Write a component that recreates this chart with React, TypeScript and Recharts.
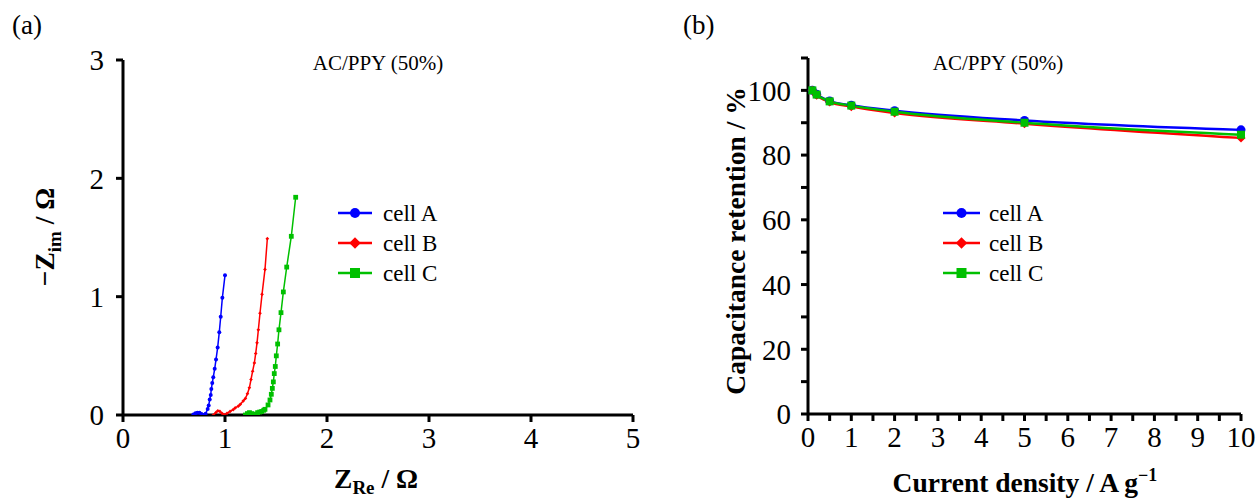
import React from 'react'
import {
  ScatterChart, Scatter, LineChart, Line, XAxis, YAxis, Legend,
} from 'recharts'

// (a) Nyquist plots, Z_Re / Ohm vs -Z_im / Ohm
const nyqAx = [0.69, 0.71, 0.73, 0.75, 0.77, 0.79, 0.81, 0.83, 0.84, 0.85, 0.86, 0.866, 0.875, 0.885, 0.899, 0.912, 0.928, 0.944, 0.958, 0.974, 1.0]
const nyqAy = [0.005, 0.015, 0.02, 0.018, 0.008, 0.0, 0.01, 0.05, 0.08, 0.13, 0.17, 0.22, 0.27, 0.32, 0.39, 0.47, 0.57, 0.7, 0.83, 0.99, 1.18]
const nyqBx = [0.885, 0.91, 0.93, 0.95, 0.97, 0.99, 1.02, 1.05, 1.08, 1.1, 1.13, 1.15, 1.18, 1.2, 1.22, 1.239, 1.255, 1.271, 1.288, 1.301, 1.314, 1.327, 1.343, 1.363, 1.392, 1.415]
const nyqBy = [0.0, 0.02, 0.035, 0.03, 0.015, 0.003, 0.015, 0.03, 0.045, 0.06, 0.075, 0.09, 0.12, 0.14, 0.18, 0.23, 0.3, 0.37, 0.44, 0.52, 0.61, 0.72, 0.86, 1.02, 1.23, 1.49]
const nyqCx = [1.2, 1.22, 1.24, 1.26, 1.28, 1.3, 1.32, 1.34, 1.36, 1.38, 1.392, 1.422, 1.441, 1.454, 1.464, 1.474, 1.483, 1.493, 1.503, 1.516, 1.529, 1.549, 1.572, 1.605, 1.65, 1.693]
const nyqCy = [0.0, 0.012, 0.02, 0.012, 0.002, 0.008, 0.02, 0.025, 0.03, 0.04, 0.048, 0.085, 0.127, 0.175, 0.225, 0.28, 0.35, 0.41, 0.5, 0.6, 0.72, 0.865, 1.04, 1.25, 1.51, 1.84]
const nyqXTicks = [0, 1, 2, 3, 4, 5]
const nyqYTicks = [0, 1, 2, 3]

// (b) rate capability
const currentDensity = [0.1, 0.2, 0.5, 1, 2, 5, 10]
const retentionA = [100, 98.8, 96.7, 95.4, 93.7, 90.7, 87.8]
const retentionB = [100, 98.5, 96.4, 95.0, 93.0, 89.7, 85.3]
const retentionC = [100, 98.7, 96.6, 95.3, 93.4, 90.0, 86.3]
const rateXTicks = [0, 0.5, 1, 1.5, 2, 2.5, 3, 3.5, 4, 4.5, 5, 5.5, 6, 6.5, 7, 7.5, 8, 8.5, 9, 9.5, 10]
const rateYTicks = [0, 10, 20, 30, 40, 50, 60, 70, 80, 90, 100, 110]

const seriesNames = ['cell A', 'cell B', 'cell C']
const COLORS = ['#0000ff', '#ff0000', '#00c000']
const SHAPES = ['circle', 'diamond', 'square']

const SERIF = 'Liberation Serif, Times New Roman, serif'

const zip = (xs: number[], ys: number[]) => xs.map((x, i) => ({ x, y: ys[i] }))

const rateData = currentDensity.map((x, i) => ({
  x,
  a: retentionA[i],
  b: retentionB[i],
  c: retentionC[i],
}))

function marker(shape: string, cx: number, cy: number, s: number, color: string, key?: string) {
  if (cx == null || cy == null) return <g key={key} />
  if (shape === 'circle') return <circle key={key} cx={cx} cy={cy} r={s} fill={color} />
  if (shape === 'diamond') {
    const d = s * 1.15
    return <polygon key={key} points={`${cx},${cy - d} ${cx + d},${cy} ${cx},${cy + d} ${cx - d},${cy}`} fill={color} />
  }
  return <rect key={key} x={cx - s} y={cy - s} width={s * 2} height={s * 2} fill={color} />
}

const axisStyle = {
  axisLine: { stroke: '#000', strokeWidth: 3 },
  tickLine: { stroke: '#000', strokeWidth: 3 },
  tickSize: 7,
}

const tickFont = { fill: '#000', fontSize: 29, fontFamily: SERIF, style: { fontFamily: SERIF } }

function LegendBox({ lineLen, textGap }: { lineLen: number; textGap: number }) {
  return (
    <svg width={160} height={100}>
      {seriesNames.map((name, i) => {
        const y = 12 + i * 30
        return (
          <g key={name}>
            <line x1={2} y1={y} x2={2 + lineLen} y2={y} stroke={COLORS[i]} strokeWidth={2.5} />
            {marker(SHAPES[i], 2 + lineLen / 2, y, 5, COLORS[i])}
            <text x={2 + lineLen + textGap} y={y + 8} fontSize={23} style={{ fontFamily: SERIF }} fill="#000">{name}</text>
          </g>
        )
      })}
    </svg>
  )
}

function NyquistChart() {
  const sets = [zip(nyqAx, nyqAy), zip(nyqBx, nyqBy), zip(nyqCx, nyqCy)]
  const sizes = [2, 1.6, 2.4]
  return (
    <ScatterChart width={640} height={500} margin={{ top: 60, right: 7, bottom: 45, left: 63 }}>
      <XAxis type="number" dataKey="x" domain={[0, 5]} ticks={nyqXTicks} interval={0} height={40}
        allowDataOverflow tick={tickFont} tickMargin={5} {...axisStyle} />
      <YAxis type="number" dataKey="y" domain={[0, 3]} ticks={nyqYTicks} interval={0} width={60}
        allowDataOverflow tick={tickFont} tickMargin={12} {...axisStyle} />
      <Legend layout="vertical" align="center" verticalAlign="middle"
        wrapperStyle={{ position: 'absolute', left: 336, top: 201, width: 160 }}
        content={() => <LegendBox lineLen={34} textGap={11} />} />
      {sets.map((d, i) => (
        <Scatter key={seriesNames[i]} name={seriesNames[i]} data={d} fill={COLORS[i]}
          line={{ strokeWidth: 1.5 }} lineType="joint" isAnimationActive={false}
          shape={(p: any) => marker(SHAPES[i], p.cx, p.cy, sizes[i], COLORS[i])} />
      ))}
    </ScatterChart>
  )
}

function RateChart() {
  const keys = ['a', 'b', 'c']
  return (
    <LineChart width={619} height={500} data={rateData} margin={{ top: 58, right: 18, bottom: 46, left: 108 }}>
      <XAxis type="number" dataKey="x" domain={[0, 10]} ticks={rateXTicks} interval={0} height={40}
        tick={tickFont} tickMargin={5} tickFormatter={(v: number) => (Number.isInteger(v) ? String(v) : '')}
        {...axisStyle} />
      <YAxis type="number" domain={[0, 110]} ticks={rateYTicks} interval={0} width={60}
        tick={tickFont} tickMargin={10} tickFormatter={(v: number) => (v % 20 === 0 ? String(v) : '')}
        {...axisStyle} />
      <Legend layout="vertical" align="center" verticalAlign="middle"
        wrapperStyle={{ position: 'absolute', left: 301, top: 201, width: 160 }}
        content={() => <LegendBox lineLen={37} textGap={9} />} />
      {keys.map((k, i) => (
        <Line key={k} name={seriesNames[i]} dataKey={k} type="monotone" stroke={COLORS[i]} strokeWidth={2.4}
          isAnimationActive={false} activeDot={false}
          dot={(p: any) => marker(SHAPES[i], p.cx, p.cy, i === 0 ? 4.5 : 4, COLORS[i], `${k}-${p.index}`)} />
      ))}
    </LineChart>
  )
}

export default function App() {
  const bold = { fontWeight: 700, fontSize: 27.5, fill: '#000', style: { fontFamily: SERIF } }
  const plain = { fill: '#000', style: { fontFamily: SERIF } }
  return (
    <div style={{ position: 'absolute', left: 0, top: 0, width: 1259, height: 500, background: '#fff', overflow: 'hidden' }}>
      <div style={{ position: 'absolute', left: 0, top: 0 }}><NyquistChart /></div>
      <div style={{ position: 'absolute', left: 640, top: 0 }}><RateChart /></div>
      <svg width={1259} height={500} style={{ position: 'absolute', left: 0, top: 0, pointerEvents: 'none' }}>
        <text x={12} y={34} fontSize={27} {...plain}>(a)</text>
        <text x={683} y={34} fontSize={27} {...plain}>(b)</text>
        <text x={378} y={70} textAnchor="middle" fontSize={21} {...plain}>AC/PPY (50%)</text>
        <text x={998} y={70} textAnchor="middle" fontSize={21} {...plain}>AC/PPY (50%)</text>
        <text transform="translate(54,237) rotate(-90)" textAnchor="middle" {...bold}>
          −Z<tspan fontSize={19} dy={7}>im</tspan><tspan dy={-7}> / Ω</tspan>
        </text>
        <text x={376} y={488} textAnchor="middle" {...bold}>
          Z<tspan fontSize={19} dy={6}>Re</tspan><tspan dy={-6}> / Ω</tspan>
        </text>
        <text transform="translate(745,241) rotate(-90)" textAnchor="middle" {...bold}>
          Capacitance retention / %
        </text>
        <text x={1025} y={492} textAnchor="middle" {...bold}>
          Current density / A g<tspan fontSize={18} dy={-11}>−1</tspan>
        </text>
      </svg>
    </div>
  )
}
